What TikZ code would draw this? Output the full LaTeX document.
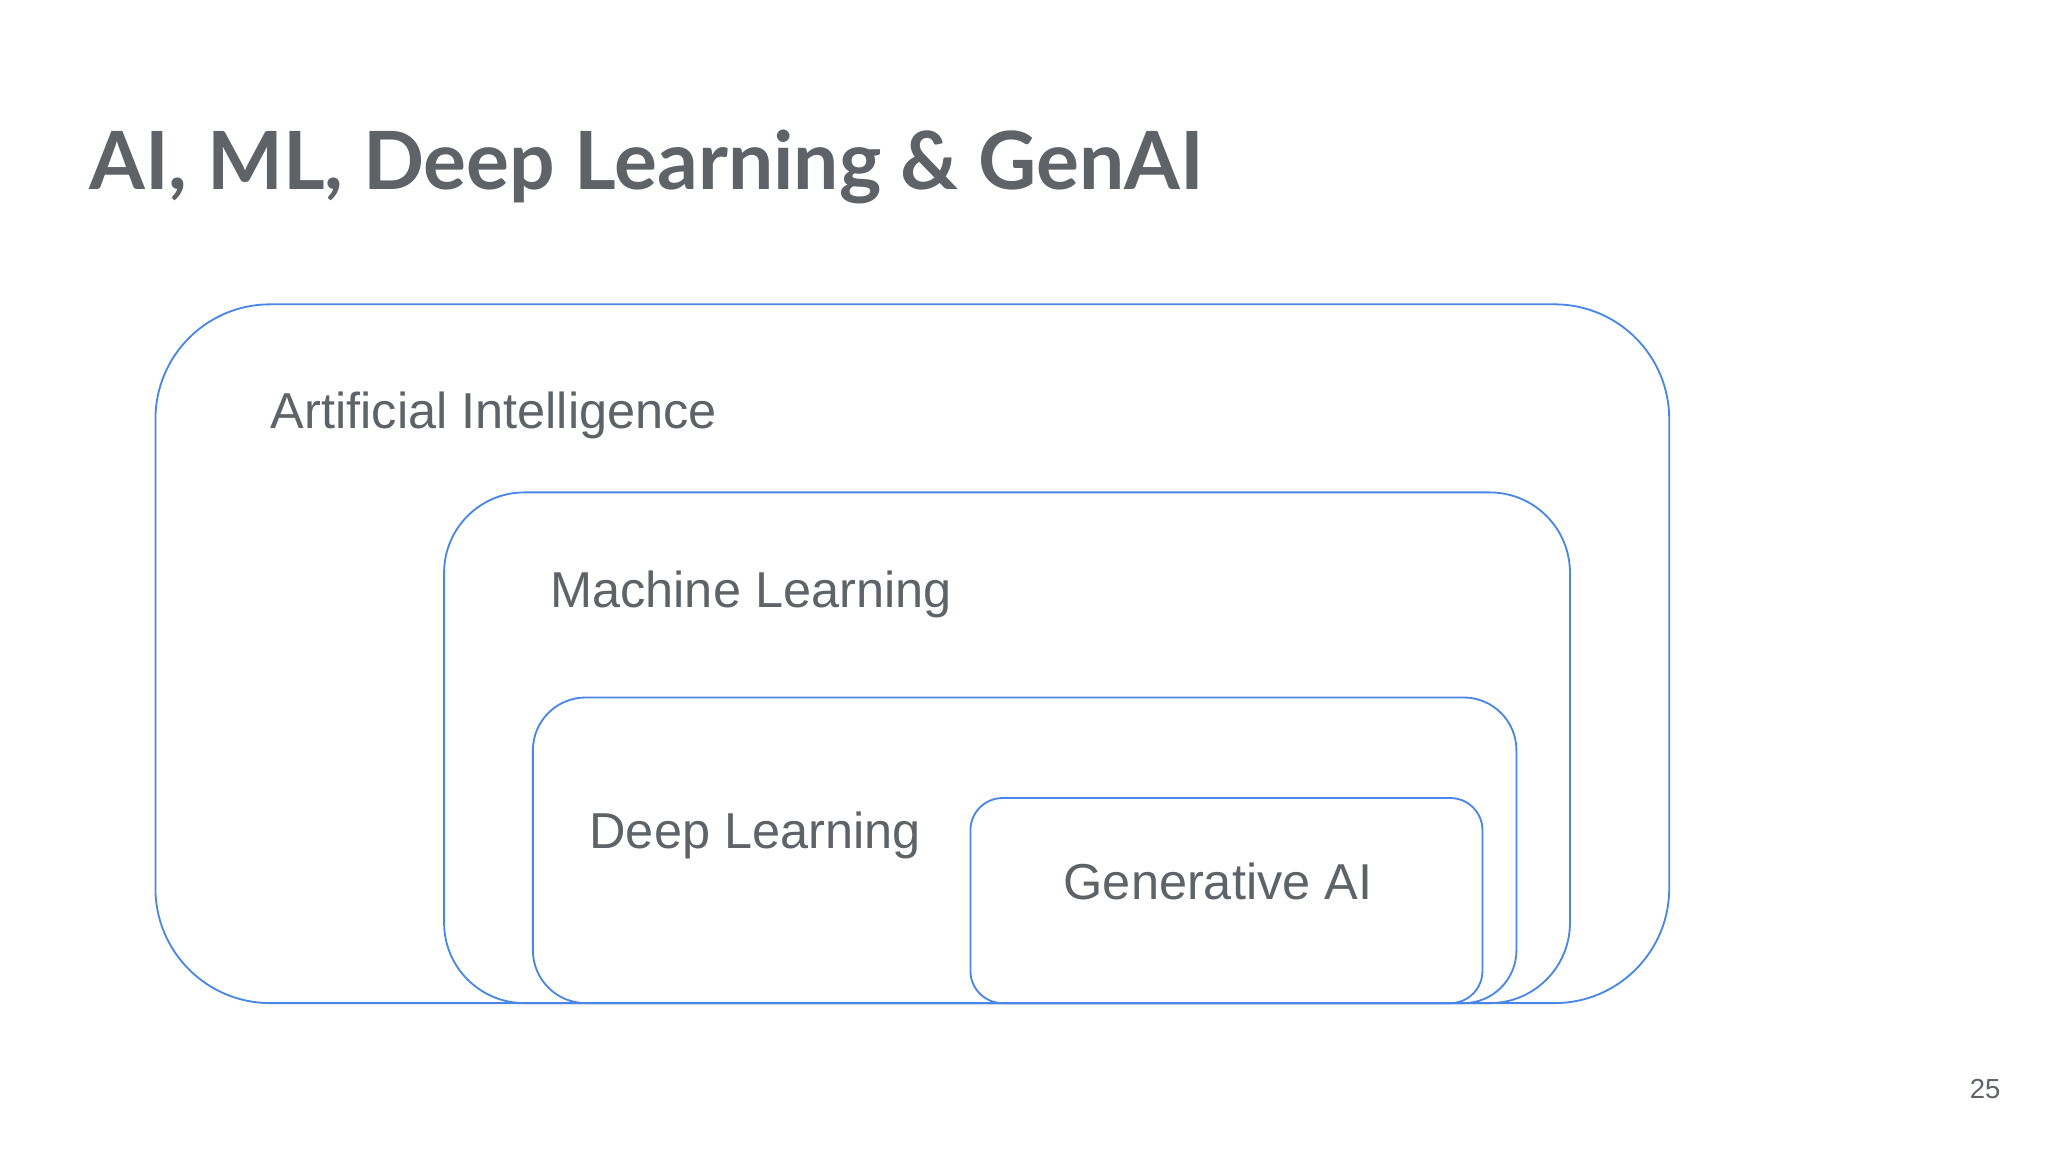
\documentclass[tikz,border=0pt]{standalone}
\usepackage{fontspec}
\setmainfont{Liberation Sans}
\newfontfamily\titlefont{Lato}
\definecolor{txt}{HTML}{5F6368}
\definecolor{bl}{HTML}{4A86E8}
\begin{document}
\begin{tikzpicture}[x=0.02cm,y=-0.02cm,
  box/.style={draw=bl,line width=0.8pt},
  lbl/.style={anchor=base west,text=txt,font=\fontsize{22}{24}\selectfont,inner sep=0}]
\useasboundingbox (0,0) rectangle (1568,882);
\draw[box,rounded corners=50] (119,233) rectangle (1278,768);
\draw[box,rounded corners=35] (340,377) rectangle (1202,768);
\draw[box,rounded corners=23] (408,534) rectangle (1161,768);
\draw[box,rounded corners=14] (743,611) rectangle (1135,768);
\node[anchor=base west,text=txt,inner sep=0,font=\titlefont\bfseries\fontsize{35}{40}\selectfont] (title) at (68,145) {AI, ML, Deep Learning \& GenAI};
\node[lbl] (lai) at (207,328) {Artificial Intelligence};
\node[lbl] (lml) at (421,465) {Machine Learning};
\node[lbl] (ldl) at (451,650) {Deep Learning};
\node[lbl] (lga) at (814,689) {Generative AI};
\node[anchor=base east,text=txt,inner sep=0,font=\fontsize{12}{14}\selectfont] (pg) at (1532,841) {25};
\end{tikzpicture}
\end{document}
